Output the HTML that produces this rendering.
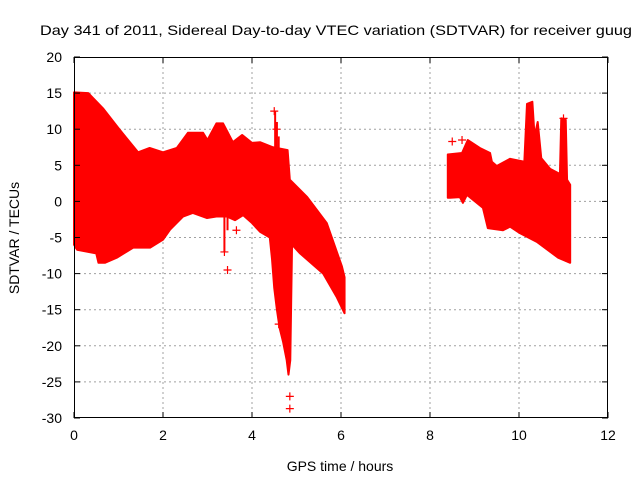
<!DOCTYPE html>
<html><head><meta charset="utf-8"><style>
html,body{margin:0;padding:0;background:#fff}
svg{display:block;font-family:"Liberation Sans",sans-serif}
</style></head><body>
<svg id="chart" width="640" height="480" viewBox="0 0 640 480">
<rect width="640" height="480" fill="#fff"/>
<text x="40" y="35" font-size="14" textLength="592" lengthAdjust="spacingAndGlyphs">Day 341 of 2011, Sidereal Day-to-day VTEC variation (SDTVAR) for receiver guug</text>
<g id="grid"></g>
<g id="marks"></g>
<g id="axes"></g>
<text x="340" y="471" font-size="14" text-anchor="middle">GPS time / hours</text>
<text transform="translate(19,238) rotate(-90)" font-size="14" text-anchor="middle">SDTVAR / TECUs</text>
</svg>
<script>
const xTicks = [0, 2, 4, 6, 8, 10, 12];
const yTicks = [20, 15, 10, 5, 0, -5, -10, -15, -20, -25, -30];
// segment 1 envelope (time in hours, value in TECU)
const seg1Upper = [[0,15.1],[0.32,15],[0.65,12.9],[1.03,9.9],[1.44,6.8],[1.7,7.4],[2.0,6.8],[2.31,7.4],[2.56,9.5],[2.9,9.5],[3.0,8.5],[3.2,10.8],[3.35,10.8],[3.57,8.2],[3.78,9.2],[4.0,8.1],[4.18,8.2],[4.47,7.5],[4.8,7.1],[4.85,3.0],[5.24,0.6],[5.68,-3],[6.02,-9],[6.08,-10.5]];
const seg1Lower = [[0,-6],[0.07,-6.7],[0.5,-7.2],[0.55,-8.5],[0.7,-8.5],[0.96,-7.8],[1.33,-6.4],[1.71,-6.4],[2.0,-5.3],[2.16,-3.9],[2.45,-2.1],[2.67,-1.6],[2.99,-2.3],[3.2,-2.1],[3.44,-2.1],[3.62,-2.6],[3.8,-1.9],[4.0,-3],[4.18,-4.2],[4.4,-5],[4.45,-8],[4.5,-12],[4.56,-15],[4.62,-17.5],[4.7,-19.5],[4.78,-22],[4.82,-24],[4.86,-22],[4.88,-14],[4.9,-6],[5.08,-7.2],[5.6,-10],[5.9,-13.2],[6.08,-15.5]];
// segment 2 envelope
const seg2Upper = [[8.4,6.5],[8.72,6.7],[8.85,8.5],[9.12,7.4],[9.35,6.7],[9.39,5.5],[9.5,4.9],[9.8,5.9],[10.12,5.5],[10.18,13.5],[10.3,13.8],[10.35,9],[10.42,11],[10.5,6],[10.7,4.5],[10.92,3.8],[10.95,11.5],[11.05,11.3],[11.08,3],[11.15,2.3]];
const seg2Lower = [[8.4,0.5],[8.45,0.5],[8.67,0.6],[8.74,-0.2],[8.83,0.9],[9.19,-0.9],[9.3,-3.7],[9.64,-4.0],[9.8,-3.5],[10.02,-4.4],[10.4,-5.6],[10.88,-7.8],[11.15,-8.5]];
// thin vertical spikes: time, top value, bottom value
const spikeT = [4.52, 4.56, 4.6, 3.38, 3.45];
const spikeTop = [12.5, 11, 9, -2, -2];
const spikeBottom = [6, 6, 6, -7, -4];
// isolated outlier points
const outlierT = [4.5, 4.55, 4.85, 4.85, 3.45, 3.65, 3.38, 8.5, 8.72, 4.6, 11.0];
const outlierV = [12.5, 10.0, -27.0, -28.7, -9.5, -4.0, -7.0, 8.3, 8.5, -17.0, 11.5];

const X0=74, X1=608, Y0=57, Y1=418;
const xS = t => X0 + (t - 0) / 12 * (X1 - X0);
const yS = v => Y0 + (20 - v) / 50 * (Y1 - Y0);
const NS='http://www.w3.org/2000/svg';
function mk(tag, attrs, parent){const e=document.createElementNS(NS,tag);for(const k in attrs)e.setAttribute(k,attrs[k]);parent.appendChild(e);return e;}
const grid=document.getElementById('grid'), axes=document.getElementById('axes'), marks=document.getElementById('marks');

xTicks.forEach(t=>{
  const x=xS(t);
  if(t>0&&t<12){const g=mk('line',{x1:x,x2:x,y1:Y0,y2:Y1,stroke:'#a0a0a0','stroke-dasharray':'2,3','stroke-width':1},grid);
  
  }
  const l=mk('text',{x:x,y:Y1+22,'font-size':14,'text-anchor':'middle'},axes);l.textContent=t;
  
  
  mk('line',{x1:x,x2:x,y1:Y1,y2:Y1-6,stroke:'#000'},axes);
  mk('line',{x1:x,x2:x,y1:Y0,y2:Y0+6,stroke:'#000'},axes);
});
yTicks.forEach(v=>{
  const y=yS(v);
  if(v<20&&v>-30){const g=mk('line',{x1:X0,x2:X1,y1:y,y2:y,stroke:'#a0a0a0','stroke-dasharray':'2,3','stroke-width':1},grid);
  
  }
  const l=mk('text',{x:X0-12,y:y+5,'font-size':14,'text-anchor':'end'},axes);l.textContent=v;
  
  
  mk('line',{x1:X0,x2:X0+6,y1:y,y2:y,stroke:'#000'},axes);
  mk('line',{x1:X1,x2:X1-6,y1:y,y2:y,stroke:'#000'},axes);
});
const fr=mk('rect',{x:X0+0.5,y:Y0+0.5,width:X1-X0-1,height:Y1-Y0-1,fill:'none',stroke:'#000'},axes);



function band(up, low, name){
  const pts=up.map(p=>xS(p[0])+','+yS(p[1])).concat(low.slice().reverse().map(p=>xS(p[0])+','+yS(p[1])));
  const p=mk('polygon',{points:pts.join(' '),fill:'#ff0000',stroke:'#ff0000','stroke-width':2,'stroke-linejoin':'round'},marks);
  
  
}
band(seg1Upper, seg1Lower, 'data-band-segment-1');
band(seg2Upper, seg2Lower, 'data-band-segment-2');
spikeT.forEach((t,i)=>{
  const s=mk('line',{x1:xS(t),x2:xS(t),y1:yS(spikeTop[i]),y2:yS(spikeBottom[i]),stroke:'#ff0000','stroke-width':2},marks);
  
  
});
outlierT.forEach((t,i)=>{
  const x=xS(t), y=yS(outlierV[i]);
  const p=mk('path',{d:`M${x-4},${y}H${x+4}M${x},${y-4}V${y+4}`,stroke:'#ff0000','stroke-width':1.2},marks);
  
  
});
</script>
</body></html>
